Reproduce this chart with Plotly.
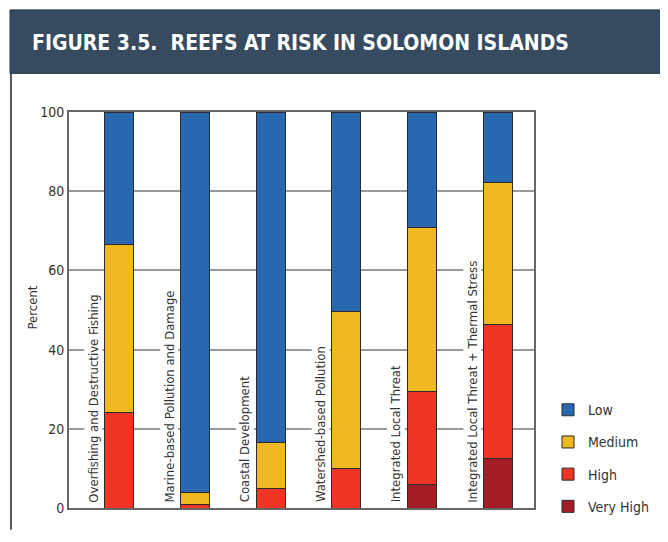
import plotly.graph_objects as go

# Reefs at risk in Solomon Islands, percent of reefs by threat level
categories = [
    "Overfishing and Destructive Fishing",
    "Marine-based Pollution and Damage",
    "Coastal Development",
    "Watershed-based Pollution",
    "Integrated Local Threat",
    "Integrated Local Threat + Thermal Stress",
]
very_high = [0, 0, 0, 0, 6.0, 12.4]
high = [24.1, 0.8, 4.9, 9.9, 23.5, 33.9]
medium = [42.4, 3.0, 11.7, 39.8, 41.4, 35.8]
low = [33.5, 96.2, 83.4, 50.3, 29.1, 17.9]

series = [
    ("Very High", very_high, "#a31d24", 4),
    ("High", high, "#ee3524", 3),
    ("Medium", medium, "#f0b922", 2),
    ("Low", low, "#2a67b1", 1),
]

# the page body has an 8px margin; keep the page no larger than the window
OFF = 8
W, H = 668 - OFF, 542 - 2 * OFF
ML, MT = 69 - OFF, 112 - OFF
MR = W - (534 - OFF)
MB = H - (512 - OFF)
PW, PH = W - ML - MR, H - MT - MB
FONT = "DejaVu Sans Condensed, Liberation Sans, sans-serif"
TXT = "#333"
PAGE_R, PAGE_B = OFF + W, OFF + H


def fx(px):
    # page pixel -> paper x
    return (px - OFF - ML) / PW


def fy(py):
    # page pixel -> paper y
    return (H - MB - (py - OFF)) / PH


xs = list(range(len(categories)))

fig = go.Figure()
for name, vals, color, rank in series:
    fig.add_trace(go.Bar(
        x=xs, y=vals, name=name, width=0.383,
        marker=dict(color=color, line=dict(color="#2a2a2a", width=1)),
        legendgroup=name, legendrank=rank,
    ))

# rotated category labels sitting left of each bar
for i, cat in enumerate(categories):
    fig.add_annotation(
        x=i - 0.34, y=0.9, xref="x", yref="y", text=cat, textangle=-90,
        showarrow=False, xanchor="center", yanchor="bottom",
        bgcolor="white", borderpad=1,
        font=dict(family=FONT, size=13, color=TXT),
    )

fig.add_annotation(
    x=fx(23), y=fy(310), xref="paper", yref="paper", text="Percent",
    textangle=-90, showarrow=False, font=dict(family=FONT, size=13, color=TXT),
)

# header band and frame (kept inside the figure so the page does not grow)
fig.add_shape(type="line", xref="paper", yref="paper", x0=fx(10), x1=fx(PAGE_R),
              y0=fy(8.5), y1=fy(8.5), line=dict(color="#c8c8c8", width=1))
fig.add_shape(type="rect", xref="paper", yref="paper", x0=fx(10), x1=fx(PAGE_R),
              y0=fy(9), y1=fy(73), fillcolor="#364b5f", line=dict(color="#2b3a48", width=1))
for xp in (11, 666.5):
    fig.add_shape(type="line", xref="paper", yref="paper", x0=fx(xp), x1=fx(xp),
                  y0=fy(73), y1=fy(PAGE_B), line=dict(color="#222", width=1.5))

fig.add_annotation(
    x=fx(30), y=fy(42), xref="paper", yref="paper", xanchor="left", yanchor="middle",
    text="<b>FIGURE 3.5.  REEFS AT RISK IN SOLOMON ISLANDS</b>", showarrow=False,
    font=dict(family=FONT, size=21, color="white"),
)

fig.update_layout(
    width=W, height=H, barmode="stack",
    margin=dict(l=ML, r=MR, t=MT, b=MB),
    plot_bgcolor="white", paper_bgcolor="white",
    font=dict(family=FONT, size=13, color=TXT),
    showlegend=True,
    legend=dict(
        x=fx(548), y=fy(397), xanchor="left", yanchor="top",
        traceorder="grouped", tracegroupgap=11,
        font=dict(family=FONT, size=14, color=TXT),
        bgcolor="rgba(0,0,0,0)",
    ),
    xaxis=dict(
        range=[-0.66, 5.475], showticklabels=False, ticks="", showgrid=False,
        showline=True, linecolor="#666", linewidth=2, mirror=True, zeroline=False,
    ),
    yaxis=dict(
        range=[0, 100], tickvals=[0, 20, 40, 60, 80, 100], ticks="",
        showgrid=True, gridcolor="#9a9a9a", gridwidth=1.5, zeroline=False,
        showline=True, linecolor="#666", linewidth=2, mirror=True,
        tickfont=dict(family=FONT, size=14, color=TXT),
    ),
)

fig.write_html("out.html")
